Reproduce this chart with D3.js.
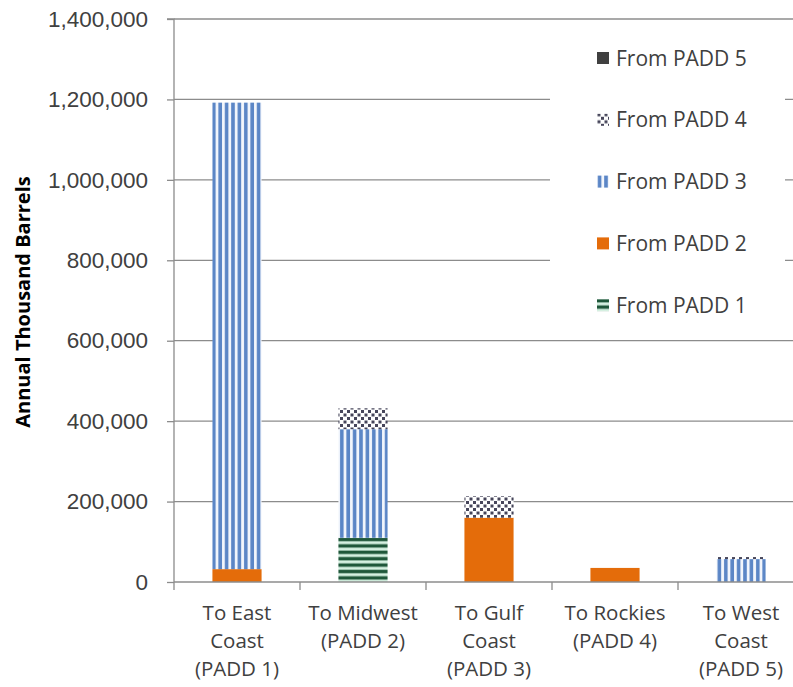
<!DOCTYPE html>
<html>
<head>
<meta charset="utf-8">
<script src="https://cdn.jsdelivr.net/npm/d3@7"></script>
<style>
  html, body { margin: 0; padding: 0; background: #fff; }
  svg { display: block; font-family: "Open Sans", "Liberation Sans", sans-serif; }
</style>
</head>
<body>
<svg id="chart" width="793" height="687"></svg>
<script>
// Destination regions (x-axis categories), each label split into lines
const categories = ["East", "Midwest", "Gulf", "Rockies", "West"];
const categoryLabels = [
  ["To East", "Coast", "(PADD 1)"],
  ["To Midwest", "(PADD 2)"],
  ["To Gulf", "Coast", "(PADD 3)"],
  ["To Rockies", "(PADD 4)"],
  ["To West", "Coast", "(PADD 5)"]
];

// Movements by origin PADD, annual thousand barrels, one value per destination
const seriesNames = ["From PADD 1", "From PADD 2", "From PADD 3", "From PADD 4", "From PADD 5"];
const fromPadd1 = [0, 110000, 0, 0, 0];
const fromPadd2 = [32000, 0, 160000, 35000, 0];
const fromPadd3 = [1160000, 270000, 0, 0, 57000];
const fromPadd4 = [0, 52000, 53000, 0, 5000];
const fromPadd5 = [0, 0, 0, 0, 0];

const yTicks = [0, 200000, 400000, 600000, 800000, 1000000, 1200000, 1400000];

const seriesValues = [fromPadd1, fromPadd2, fromPadd3, fromPadd4, fromPadd5];
const table = categories.map((c, i) => {
  const row = { cat: c };
  seriesNames.forEach((s, j) => { row[s] = seriesValues[j][i]; });
  return row;
});

const svg = d3.select("#chart");
const plotLeft = 174, plotRight = 804, plotTop = 19, plotBottom = 582;

const x = d3.scaleBand().domain(categories).range([plotLeft, plotRight])
  .paddingInner(0.61).paddingOuter(0.305);
const y = d3.scaleLinear().domain([0, 1400000]).range([plotBottom, plotTop]);

// Fill patterns
const defs = svg.append("defs");
const p3 = defs.append("pattern").attr("id", "pat3").attr("patternUnits", "userSpaceOnUse")
  .attr("width", 6.4).attr("height", 10).attr("x", 211);
p3.append("rect").attr("width", 6.4).attr("height", 10).attr("fill", "#f2f6fc");
p3.append("rect").attr("x", 1).attr("width", 3.6).attr("height", 10).attr("fill", "#5b86c6");

const p1 = defs.append("pattern").attr("id", "pat1").attr("patternUnits", "userSpaceOnUse")
  .attr("width", 10).attr("height", 6.4).attr("y", plotBottom);
p1.append("rect").attr("width", 10).attr("height", 6.4).attr("fill", "#d5f0e1");
p1.append("rect").attr("y", 0.6).attr("width", 10).attr("height", 3.4).attr("fill", "#1f573a");

const p4 = defs.append("pattern").attr("id", "pat4").attr("patternUnits", "userSpaceOnUse")
  .attr("width", 7).attr("height", 7);
p4.append("rect").attr("width", 7).attr("height", 7).attr("fill", "#ffffff");
p4.append("rect").attr("x", 0.5).attr("y", 0.5).attr("width", 3).attr("height", 3).attr("fill", "#46455a");
p4.append("rect").attr("x", 4).attr("y", 4).attr("width", 3).attr("height", 3).attr("fill", "#46455a");

const fills = {
  "From PADD 1": "url(#pat1)",
  "From PADD 2": "#e46c0a",
  "From PADD 3": "url(#pat3)",
  "From PADD 4": "url(#pat4)",
  "From PADD 5": "#404040"
};

// Gridlines
svg.append("g").selectAll("line").data(yTicks.filter(d => d > 0)).join("line")
  .attr("x1", plotLeft).attr("x2", 793)
  .attr("y1", d => y(d)).attr("y2", d => y(d))
  .attr("stroke", "#8c8c8c").attr("stroke-width", 1.3);

// Stacked bars
const stack = d3.stack().keys(seriesNames)(table);
svg.append("g").selectAll("g").data(stack).join("g")
  .attr("fill", d => fills[d.key])
  .selectAll("rect").data(d => d.filter(s => s[1] - s[0] > 0)).join("rect")
  .attr("x", d => x(d.data.cat))
  .attr("width", x.bandwidth())
  .attr("y", d => y(d[1]))
  .attr("height", d => y(d[0]) - y(d[1]));

// Y axis
const yAxis = svg.append("g").attr("transform", `translate(${plotLeft},0)`)
  .call(d3.axisLeft(y).tickValues(yTicks).tickFormat(d3.format(",")).tickSize(7).tickPadding(19));
yAxis.select(".domain").attr("stroke", "#8c8c8c").attr("stroke-width", 1.3)
  .attr("d", `M-7,${plotTop}H0V${plotBottom + 8}`);
yAxis.selectAll(".tick line").attr("stroke", "#8c8c8c").attr("stroke-width", 1.3);
yAxis.selectAll(".tick text").attr("fill", "#404040").attr("font-size", 22.5);

// X axis baseline and category boundary ticks
const xAxis = svg.append("g");
xAxis.append("line").attr("x1", plotLeft).attr("x2", 793).attr("y1", plotBottom).attr("y2", plotBottom)
  .attr("stroke", "#8c8c8c").attr("stroke-width", 1.3);
const gap = x.step() - x.bandwidth();
xAxis.selectAll("line.tk").data(categories.slice(1)).join("line").attr("class", "tk")
  .attr("x1", d => x(d) - gap / 2)
  .attr("x2", d => x(d) - gap / 2)
  .attr("y1", plotBottom).attr("y2", plotBottom + 8)
  .attr("stroke", "#8c8c8c").attr("stroke-width", 1.3);

const lbl = xAxis.selectAll("text.cl").data(categories).join("text").attr("class", "cl")
  .attr("text-anchor", "middle").attr("fill", "#404040").attr("font-size", 20.5)
  .attr("x", d => x(d) + x.bandwidth() / 2).attr("y", 620);
lbl.selectAll("tspan").data((d, i) => categoryLabels[i]).join("tspan")
  .attr("x", function () { return d3.select(this.parentNode).attr("x"); })
  .attr("dy", (d, i) => i === 0 ? 0 : 28)
  .text(d => d);

// Y axis title
svg.append("text")
  .attr("transform", "translate(30,302) rotate(-90)")
  .attr("text-anchor", "middle").attr("font-weight", "bold").attr("font-size", 20)
  .attr("fill", "#000").text("Annual Thousand Barrels");

// Legend (top item is the last series)
const legend = svg.append("g");
legend.append("rect").attr("x", 550).attr("y", 30).attr("width", 235).attr("height", 305).attr("fill", "#fff");
const legendOrder = seriesNames.slice().reverse();
const li = legend.selectAll("g.li").data(legendOrder).join("g").attr("class", "li")
  .attr("transform", (d, i) => `translate(597,${58 + i * 61.8})`);
li.append("rect").attr("x", 0).attr("y", -6).attr("width", 12).attr("height", 12)
  .attr("fill", d => fills[d]);
li.append("text").attr("x", 19).attr("y", 7.5).attr("font-size", 21).attr("fill", "#404040")
  .text(d => d);
</script>
</body>
</html>
